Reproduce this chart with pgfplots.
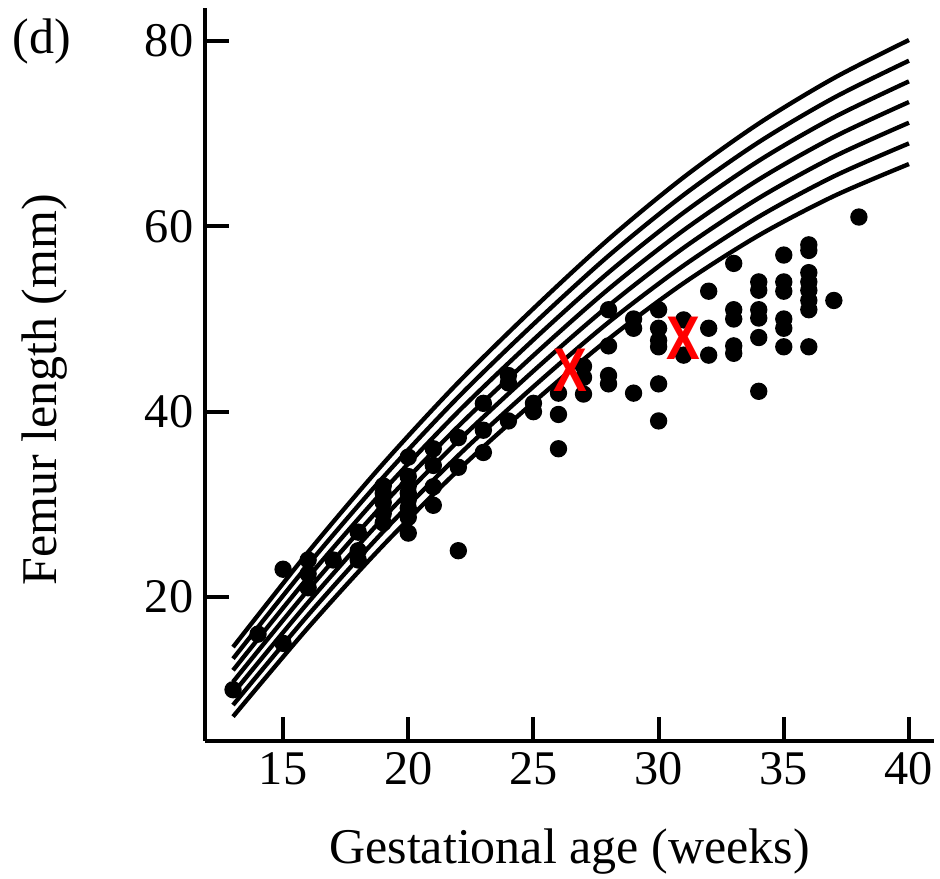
\documentclass[border=0pt]{standalone}
\usepackage{fontspec}
\setmainfont{Liberation Serif}
\newfontfamily\xfont{Liberation Sans}
\usepackage{graphicx}
\usepackage{pgfplots}
\usepackage{pgfplotstable}
\pgfplotsset{compat=1.18}

\pgfplotstableread{
x   c0     c1     c2     c3     c4     c5     c6
13  14.60  13.35  12.10  10.85  9.60   8.35   7.10
16  24.85  23.49  22.13  20.77  19.41  18.06  16.70
19  34.40  32.93  31.46  30.00  28.53  27.06  25.59
22  43.16  41.58  40.01  38.43  36.85  35.28  33.70
25  51.13  49.44  47.76  46.07  44.39  42.70  41.01
28  58.61  56.82  55.02  53.23  51.43  49.64  47.84
31  65.29  63.39  61.48  59.58  57.68  55.77  53.87
34  71.09  69.08  67.07  65.05  63.04  61.03  59.02
37  75.99  73.87  71.75  69.63  67.51  65.39  63.26
40  80.10  77.87  75.64  73.41  71.18  68.95  66.72
}\curvesdata

\pgfplotstableread{
x  y
13 10
14 16
15 23
15 15
16 24
16 22.5
16 21
17 24
18 27
18 25
18 24
19 32
19 31.2
19 30.2
19 29
19 28
20 35.1
20 33
20 32
20 31.2
20 30.5
20 29.6
20 28.6
20 26.9
21 36
21 34.2
21 31.9
21 29.9
22 37.2
22 34
22 25
23 40.9
23 38
23 35.6
24 43.9
24 43.1
24 39
25 40.9
25 40
26 42
26 39.7
26 36
27 44.9
27 43.7
27 41.9
28 51
28 47.1
28 43.9
28 43
29 50
29 49
29 42
30 51
30 49
30 47.7
30 47
30 43
30 39
31 49.9
31 46.1
32 53
32 49
32 46.1
33 56
33 51
33 50
33 47.1
33 46.3
34 54
34 53.1
34 51
34 50.1
34 48
34 42.2
35 56.9
35 54
35 53
35 50
35 49
35 47
36 58
36 57.4
36 55
36 54
36 53.1
36 52
36 51
36 47
37 52
38 61
}\dotsdata

\pgfplotstableread{
x     y
26.46 44.5
31.0  47.9
}\crossdata

\begin{document}
\begin{tikzpicture}
\useasboundingbox (-61.5pt,-41.4pt) rectangle (220.5pt,222.3pt);
\begin{axis}[
  at={(0,0)}, anchor=south west,
  scale only axis,
  width=218.7pt, height=219.9pt,
  xmin=11.88, xmax=41.0,
  ymin=4.47, ymax=83.56,
  axis lines=left,
  axis line style={-, line width=1.2pt},
  tick align=inside,
  major tick length=7.2pt,
  tick style={line width=1.2pt, black},
  xtick={15,20,25,30,35,40},
  ytick={20,40,60,80},
  /pgf/number format/assume math mode=true,
  ticklabel style={font=\fontsize{14.5}{17}\selectfont},
  label style={font=\fontsize{15}{18}\selectfont},
  xlabel={Gestational age (weeks)},
  ylabel={Femur length (mm)},
  xlabel style={at={(axis description cs:0.5,-0.151)}, anchor=center},
  ylabel style={at={(axis description cs:-0.2195,0.479)}, anchor=center},
  clip=false,
]
\addplot[black, line width=1.3pt, smooth] table[x=x, y=c0] {\curvesdata};
\addplot[black, line width=1.3pt, smooth] table[x=x, y=c1] {\curvesdata};
\addplot[black, line width=1.3pt, smooth] table[x=x, y=c2] {\curvesdata};
\addplot[black, line width=1.3pt, smooth] table[x=x, y=c3] {\curvesdata};
\addplot[black, line width=1.3pt, smooth] table[x=x, y=c4] {\curvesdata};
\addplot[black, line width=1.3pt, smooth] table[x=x, y=c5] {\curvesdata};
\addplot[black, line width=1.3pt, smooth] table[x=x, y=c6] {\curvesdata};
\addplot[only marks, mark=*, mark size=2.4pt, black] table[x=x, y=y] {\dotsdata};
\addplot[only marks, mark=text, red,
  text mark={\fontsize{18.5}{21}\selectfont\textcolor{red}{\scalebox{0.82}[1]{\xfont\bfseries X}}}]
  table[x=x, y=y] {\crossdata};
\end{axis}
\node[font=\fontsize{15}{18}\selectfont] at (-48.9pt,209.7pt) {(d)};
\end{tikzpicture}
\end{document}
